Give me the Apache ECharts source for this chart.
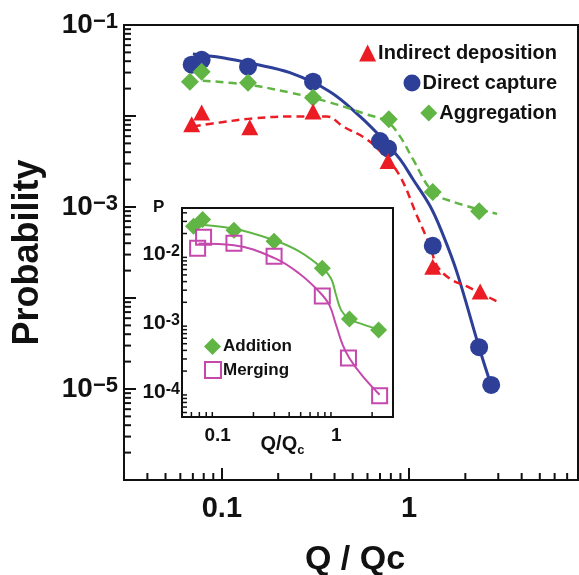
<!DOCTYPE html>
<html>
<head>
<meta charset="utf-8">
<script src="https://cdn.jsdelivr.net/npm/echarts@6.0.0/dist/echarts.min.js"></script>
<style>
	html, body { margin: 0; padding: 0; background: #fff; }
	#chart { width: 579px; height: 575px; }
</style>
</head>
<body>
<div id="chart"></div>
<script>
// main panel: markers
var depX = [0.069, 0.078, 0.141, 0.307, 0.773, 1.34, 2.40];
var depY = [0.0081, 0.0109, 0.0075, 0.0112, 0.0032, 0.00022, 0.000118];
var capX = [0.069, 0.078, 0.138, 0.307, 0.70, 0.773, 1.34, 2.37, 2.75];
var capY = [0.0366, 0.0414, 0.0348, 0.0238, 0.0053, 0.0044, 0.000375, 0.0000288, 0.0000111];
var aggX = [0.0675, 0.078, 0.138, 0.307, 0.78, 1.34, 2.37];
var aggY = [0.0238, 0.0306, 0.0232, 0.0159, 0.0092, 0.00146, 0.0009];

// main panel: fitted curves
var capFitX = [0.070, 0.101, 0.1465, 0.231, 0.378, 0.547, 0.726, 0.895, 1.05, 1.294, 1.52, 1.806, 2.367, 2.745];
var capFitY = [0.048, 0.0436, 0.0375, 0.0299, 0.0185, 0.00988, 0.00553, 0.00335, 0.00202, 0.00103, 0.000494, 0.00019, 0.0000288, 0.0000111];
var depFitX = [0.070, 0.0976, 0.1465, 0.231, 0.364, 0.444, 0.596, 0.726, 0.895, 1.104, 1.294, 1.412, 1.656, 2.042, 2.957];
var depFitY = [0.00768, 0.00849, 0.0094, 0.00988, 0.00988, 0.00768, 0.00553, 0.00379, 0.00218, 0.000797, 0.000375, 0.000226, 0.000163, 0.000134, 0.0000916];
var aggFitX = [0.079, 0.136, 0.231, 0.378, 0.596, 0.763, 0.895, 1.05, 1.343, 1.718, 2.957];
var aggFitY = [0.0244, 0.0221, 0.0181, 0.0141, 0.0104, 0.0087, 0.00597, 0.00335, 0.00146, 0.00114, 0.00084];

// inset panel
var addX = [0.0626, 0.0746, 0.137, 0.2985, 0.761, 1.288, 2.27];
var addY = [0.0255, 0.0321, 0.0223, 0.0154, 0.00627, 0.00114, 0.00079];
var mrgX = [0.0677, 0.076, 0.137, 0.2985, 0.761, 1.264, 2.314];
var mrgY = [0.0122, 0.0176, 0.0144, 0.00935, 0.00246, 0.000311, 0.0000875];
var addFitX = [0.0602, 0.137, 0.2985, 0.486, 0.766, 0.902, 0.994, 1.096, 1.288, 1.67, 2.314];
var addFitY = [0.0272, 0.0235, 0.0160, 0.0110, 0.0062, 0.00444, 0.00255, 0.00154, 0.00114, 0.000957, 0.000792];
var mrgFitX = [0.069, 0.137, 0.2985, 0.486, 0.718, 0.873, 0.994, 1.13, 1.288, 1.67, 2.314];
var mrgFitY = [0.0143, 0.0135, 0.00884, 0.00525, 0.00284, 0.00182, 0.000935, 0.00048, 0.000308, 0.000167, 0.0000906];

// axis ranges and labels
var mainXRange = [0.03, 8];
var mainYRange = [1e-6, 0.1];
var insetXRange = [0.05, 3];
var insetYRange = [4.3e-5, 0.047];
var mainXTickLabels = ['0.1', '1'];
var mainYLabelExps = [-1, -3, -5];
var insetXTickLabels = ['0.1', '1'];
var insetYLabelExps = [-2, -3, -4];
var minorSteps = [2, 3, 4, 5, 6, 7, 8, 9];

var FONT = '"Liberation Sans", Arial, Helvetica, sans-serif';
var INK = '#111';
var RED = '#ec1c24';
var BLUE = '#2d3f97';
var GREEN = '#60b544';
var MAGENTA = '#c548ad';

function pairs(xs, ys) {
	return xs.map(function (x, i) { return [x, ys[i]]; });
}

function decadeOf(v) {
	var l = Math.log10(v);
	var e = Math.round(l);
	return Math.abs(l - e) < 1e-6 ? e : null;
}

function minorTicks(range) {
	var out = [];
	var k0 = Math.floor(Math.log10(range[0]));
	var k1 = Math.ceil(Math.log10(range[1]));
	for (var k = k0; k <= k1; k++) {
		for (var i = 0; i < minorSteps.length; i++) {
			var v = minorSteps[i] * Math.pow(10, k);
			if (v > range[0] * 1.0001 && v < range[1] * 0.9999) {
				out.push(v);
			}
		}
	}
	return out;
}

// minor ticks drawn through the axis scale
function tickSeries(dir, idx, values, fixed, len, width) {
	return {
		type: 'custom',
		xAxisIndex: idx,
		yAxisIndex: idx,
		silent: true,
		z: 6,
		data: values.map(function (v) { return dir === 'x' ? [v, fixed] : [fixed, v]; }),
		renderItem: function (params, api) {
			var p = api.coord([api.value(0), api.value(1)]);
			var shape = dir === 'x'
				? { x1: p[0], y1: p[1], x2: p[0], y2: p[1] - len }
				: { x1: p[0], y1: p[1], x2: p[0] + len, y2: p[1] };
			return { type: 'line', shape: shape, style: { stroke: INK, lineWidth: width } };
		}
	};
}

function xLabel(labels) {
	return function (v) {
		var e = decadeOf(v);
		if (e === null) return '';
		var s = e === -1 ? '0.1' : (e === 0 ? '1' : '');
		return labels.indexOf(s) >= 0 ? s : '';
	};
}

function yLabel(exps, minus) {
	return function (v) {
		var e = decadeOf(v);
		if (e === null || exps.indexOf(e) < 0) return '';
		return '{b|10}{s|' + minus + (-e) + '}';
	};
}

function legendText(size) {
	return { color: INK, fontFamily: FONT, fontSize: size, fontWeight: 'bold', padding: [0, 0, 0, -3] };
}

var chart = echarts.init(document.getElementById('chart'), null, { renderer: 'canvas' });

var option = {
	backgroundColor: '#fff',
	animation: false,
	grid: [
		{ left: 124, top: 25, right: 1, bottom: 95, show: true, borderColor: INK, borderWidth: 2, outerBoundsMode: 'none' },
		{ left: 182, top: 208, right: 186, bottom: 158, show: true, backgroundColor: '#fff', borderColor: INK, borderWidth: 2, z: 3, outerBoundsMode: 'none' }
	],
	xAxis: [
		{
			type: 'log', logBase: 10, gridIndex: 0,
			min: mainXRange[0], max: mainXRange[1],
			axisLine: { onZero: false, lineStyle: { color: INK, width: 2 } },
			axisTick: { inside: true, length: 12, lineStyle: { color: INK, width: 2 } },
			splitLine: { show: false },
			axisLabel: {
				margin: 14, color: INK, fontFamily: FONT, fontSize: 29, fontWeight: 'bold',
				formatter: xLabel(mainXTickLabels)
			},
			name: 'Q / Qc', nameLocation: 'middle', nameGap: 63, nameMoveOverlap: false,
			nameTextStyle: { color: INK, fontFamily: FONT, fontSize: 34, fontWeight: 'bold', padding: [0, 0, 0, 8] }
		},
		{
			type: 'log', logBase: 10, gridIndex: 1,
			min: insetXRange[0], max: insetXRange[1],
			axisLine: { onZero: false, lineStyle: { color: INK, width: 2 } },
			axisTick: { inside: true, length: 8, lineStyle: { color: INK, width: 1.5 } },
			splitLine: { show: false },
			axisLabel: {
				margin: 9, color: INK, fontFamily: FONT, fontSize: 19, fontWeight: 'bold',
				formatter: xLabel(insetXTickLabels)
			},
			name: '{q|Q/Q}{c|c}', nameLocation: 'middle', nameGap: 17, nameMoveOverlap: false,
			nameTextStyle: {
				padding: [0, 10, 0, 0],
				rich: {
					q: { color: INK, fontFamily: FONT, fontSize: 20, fontWeight: 'bold', verticalAlign: 'top' },
					c: { color: INK, fontFamily: FONT, fontSize: 13, fontWeight: 'bold', padding: [10, 0, 0, 0] }
				}
			}
		}
	],
	yAxis: [
		{
			type: 'log', logBase: 10, gridIndex: 0,
			min: mainYRange[0], max: mainYRange[1],
			axisLine: { onZero: false, lineStyle: { color: INK, width: 2 } },
			axisTick: { inside: true, length: 12, lineStyle: { color: INK, width: 2 } },
			splitLine: { show: false },
			axisLabel: {
				margin: 6,
				formatter: yLabel(mainYLabelExps, '\u2212'),
				rich: {
					b: { color: INK, fontFamily: FONT, fontSize: 28, fontWeight: 'bold', lineHeight: 28 },
					s: { color: INK, fontFamily: FONT, fontSize: 22, fontWeight: 'bold', verticalAlign: 'top' }
				}
			},
			name: 'Probability', nameLocation: 'middle', nameGap: 78, nameMoveOverlap: false,
			nameTextStyle: { color: INK, fontFamily: FONT, fontSize: 36, fontWeight: 'bold' }
		},
		{
			type: 'log', logBase: 10, gridIndex: 1,
			min: insetYRange[0], max: insetYRange[1],
			axisLine: { onZero: false, lineStyle: { color: INK, width: 2 } },
			axisTick: { inside: true, length: 8, lineStyle: { color: INK, width: 1.5 } },
			splitLine: { show: false },
			axisLabel: {
				margin: 2,
				formatter: yLabel(insetYLabelExps, '-'),
				rich: {
					b: { color: INK, fontFamily: FONT, fontSize: 21, fontWeight: 'bold', lineHeight: 21 },
					s: { color: INK, fontFamily: FONT, fontSize: 16, fontWeight: 'bold', verticalAlign: 'top' }
				}
			}
		}
	],
	legend: [
		{
			right: 22, top: 43, padding: 0, itemWidth: 17, itemHeight: 17, selectedMode: false,
			textStyle: legendText(20),
			data: [{ name: 'Indirect deposition', icon: 'triangle' }]
		},
		{
			right: 22, top: 73, padding: 0, itemWidth: 17, itemHeight: 17, selectedMode: false,
			textStyle: legendText(20),
			data: [{ name: 'Direct capture', icon: 'circle' }]
		},
		{
			right: 22, top: 103, padding: 0, itemWidth: 17, itemHeight: 17, selectedMode: false,
			textStyle: legendText(20),
			data: [{ name: 'Aggregation', icon: 'diamond' }]
		},
		{
			left: 204, top: 338, padding: 0, itemWidth: 17, itemHeight: 17, selectedMode: false, z: 8,
			textStyle: legendText(17),
			data: [{ name: 'Addition', icon: 'diamond' }]
		},
		{
			left: 204, top: 361, padding: 0, itemWidth: 16, itemHeight: 16, selectedMode: false, z: 8,
			textStyle: legendText(17),
			data: [{ name: 'Merging', icon: 'rect', itemStyle: { color: 'rgba(0,0,0,0)', borderColor: MAGENTA, borderWidth: 2 } }]
		}
	],
	graphic: [
		{
			type: 'text', left: 153, top: 199, z: 10,
			style: { text: 'P', fill: INK, font: 'bold 17px ' + FONT }
		}
	],
	series: [
		// main fitted curves
		{
			name: 'capFit', type: 'line', xAxisIndex: 0, yAxisIndex: 0,
			data: pairs(capFitX, capFitY), smooth: 0.4, showSymbol: false, z: 3,
			lineStyle: { color: BLUE, width: 3 }
		},
		{
			name: 'depFit', type: 'line', xAxisIndex: 0, yAxisIndex: 0,
			data: pairs(depFitX, depFitY), smooth: 0.4, showSymbol: false, z: 3,
			lineStyle: { color: RED, width: 2.5, type: [8, 5] }
		},
		{
			name: 'aggFit', type: 'line', xAxisIndex: 0, yAxisIndex: 0,
			data: pairs(aggFitX, aggFitY), smooth: 0.4, showSymbol: false, z: 3,
			lineStyle: { color: GREEN, width: 2.5, type: [8, 5] }
		},
		// main markers
		{
			name: 'Direct capture', type: 'scatter', xAxisIndex: 0, yAxisIndex: 0,
			data: pairs(capX, capY), symbol: 'circle', symbolSize: 18, z: 4,
			itemStyle: { color: BLUE, opacity: 1 }
		},
		{
			name: 'Aggregation', type: 'scatter', xAxisIndex: 0, yAxisIndex: 0,
			data: pairs(aggX, aggY), symbol: 'diamond', symbolSize: 18, z: 4,
			itemStyle: { color: GREEN, opacity: 1 }
		},
		{
			name: 'Indirect deposition', type: 'scatter', xAxisIndex: 0, yAxisIndex: 0,
			data: pairs(depX, depY), symbol: 'triangle', symbolSize: [17, 16], z: 4,
			itemStyle: { color: RED, opacity: 1 }
		},
		// inset curves
		{
			name: 'addFit', type: 'line', xAxisIndex: 1, yAxisIndex: 1,
			data: pairs(addFitX, addFitY), smooth: 0.4, showSymbol: false, z: 5,
			lineStyle: { color: GREEN, width: 2 }
		},
		{
			name: 'mrgFit', type: 'line', xAxisIndex: 1, yAxisIndex: 1,
			data: pairs(mrgFitX, mrgFitY), smooth: 0.4, showSymbol: false, z: 5,
			lineStyle: { color: MAGENTA, width: 2 }
		},
		// inset markers
		{
			name: 'Addition', type: 'scatter', xAxisIndex: 1, yAxisIndex: 1,
			data: pairs(addX, addY), symbol: 'diamond', symbolSize: 17, z: 6,
			itemStyle: { color: GREEN, opacity: 1 }
		},
		{
			name: 'Merging', type: 'scatter', xAxisIndex: 1, yAxisIndex: 1,
			data: pairs(mrgX, mrgY), symbol: 'rect', symbolSize: 15, z: 6,
			itemStyle: { color: 'rgba(0,0,0,0)', borderColor: MAGENTA, borderWidth: 2, opacity: 1 }
		},
		// minor ticks
		tickSeries('x', 0, minorTicks(mainXRange), mainYRange[0], 7, 2),
		tickSeries('y', 0, minorTicks(mainYRange), mainXRange[0], 7, 2),
		tickSeries('x', 1, minorTicks(insetXRange), insetYRange[0], 5, 1.5),
		tickSeries('y', 1, minorTicks(insetYRange), insetXRange[0], 5, 1.5)
	]
};

chart.setOption(option);
</script>
</body>
</html>
